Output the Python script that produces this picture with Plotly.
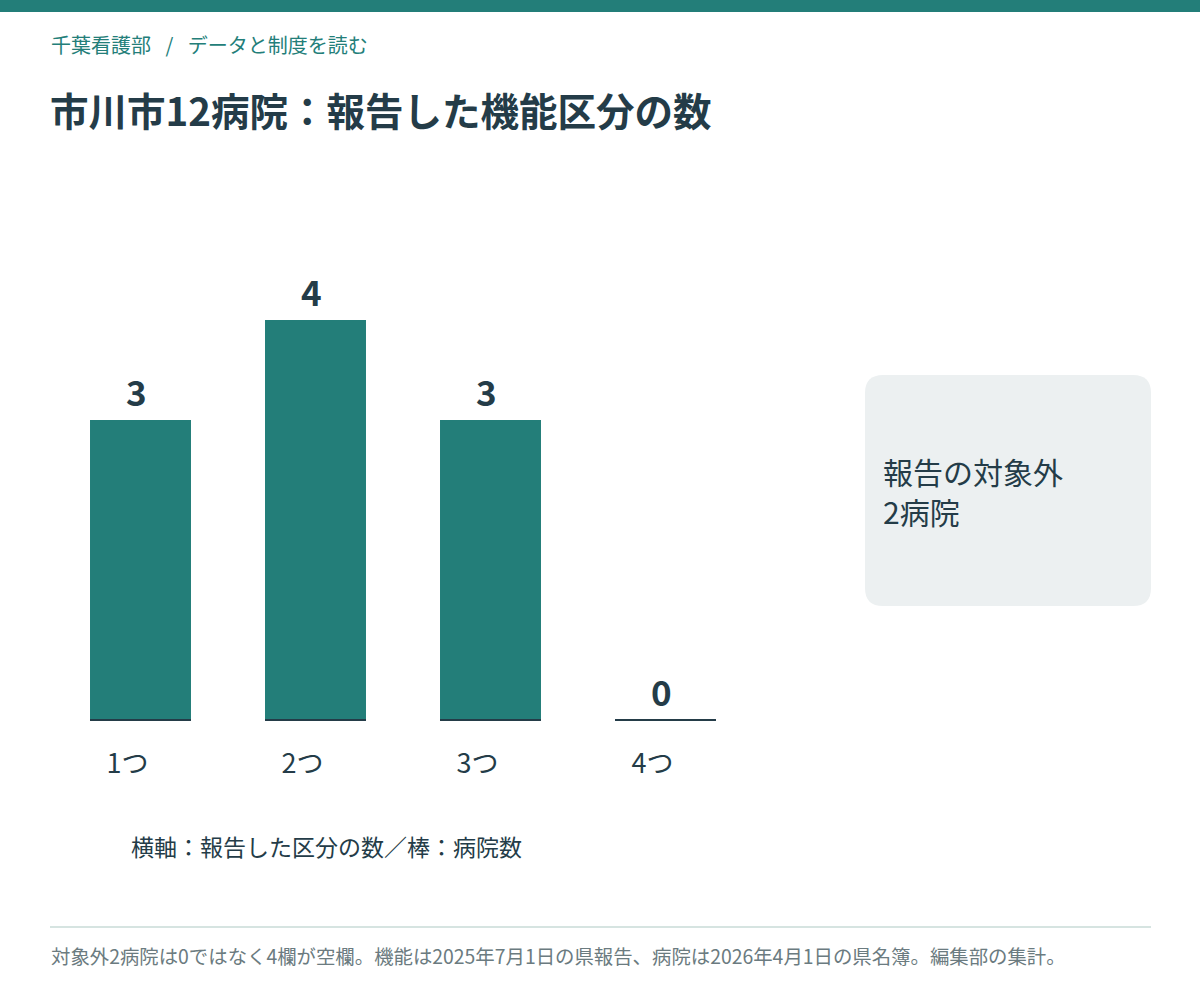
import plotly.graph_objects as go

# ---- data ----
categories = ["1つ", "2つ", "3つ", "4つ"]
hospital_counts = [3, 4, 3, 0]
excluded_lines = ["報告の対象外", "2病院"]
title_text = "市川市12病院：報告した機能区分の数"
breadcrumb_text = "千葉看護部\u2002 / \u2002データと制度を読む"
axis_caption = "横軸：報告した区分の数／棒：病院数"
footer_text = "対象外2病院は0ではなく4欄が空欄。機能は2025年7月1日の県報告、病院は2026年4月1日の県名簿。編集部の集計。"

TEAL = "#237e79"
DARK = "#243c48"
GREY = "#6b7b80"
FONT = "Noto Sans CJK JP"
W, H = 1200, 1000

def px(x):
    return x / W

def py(y):
    return 1 - y / H

BAR_W = 0.577

fig = go.Figure()
fig.add_trace(go.Bar(
    x=list(range(len(categories))),
    y=hospital_counts,
    width=BAR_W,
    marker=dict(color=TEAL, line=dict(width=0)),
    hoverinfo="skip",
))

# value labels
for i, v in enumerate(hospital_counts):
    fig.add_annotation(x=i, y=v, xref="x", yref="y", text=f"<b>{v}</b>",
                       showarrow=False, yanchor="bottom", yshift=2, xshift=-4,
                       font=dict(family=FONT, size=35, color=DARK))

# baseline under each bar
for i, v in enumerate(hospital_counts):
    fig.add_shape(type="line", xref="x", yref="y",
                  x0=i - BAR_W / 2, x1=i + BAR_W / 2, y0=0, y1=0,
                  line=dict(color=DARK, width=2))

shapes = [
    # top band
    dict(type="rect", xref="paper", yref="paper", x0=0, x1=1, y0=py(12), y1=1,
         fillcolor=TEAL, line=dict(width=0), layer="below"),
    # footer rule
    dict(type="line", xref="paper", yref="paper", x0=px(50), x1=px(1151),
         y0=py(927), y1=py(927), line=dict(color="#d6e4e1", width=2)),
]
# rounded box
x0, x1, y0, y1, r = 865, 1151, 375, 606, 18
path = (f"M {px(x0 + r)} {py(y0)} L {px(x1 - r)} {py(y0)} "
        f"Q {px(x1)} {py(y0)} {px(x1)} {py(y0 + r)} "
        f"L {px(x1)} {py(y1 - r)} Q {px(x1)} {py(y1)} {px(x1 - r)} {py(y1)} "
        f"L {px(x0 + r)} {py(y1)} Q {px(x0)} {py(y1)} {px(x0)} {py(y1 - r)} "
        f"L {px(x0)} {py(y0 + r)} Q {px(x0)} {py(y0)} {px(x0 + r)} {py(y0)} Z")
shapes.append(dict(type="path", xref="paper", yref="paper", path=path,
                   fillcolor="#ecf0f1", line=dict(width=0), layer="below"))
for s in shapes:
    fig.add_shape(**s)

annos = [
    dict(x=px(49), y=py(44), text=breadcrumb_text, xanchor="left", yanchor="middle",
         font=dict(family=FONT, size=20, color=TEAL)),
    dict(x=px(48), y=py(109), text=f"<b>{title_text}</b>", xanchor="left", yanchor="middle",
         font=dict(family=FONT, size=38.5, color=DARK)),
    dict(x=px(129), y=py(846), text=axis_caption, xanchor="left", yanchor="middle",
         font=dict(family=FONT, size=23, color=DARK)),
    dict(x=px(49), y=py(955), text=footer_text, xanchor="left", yanchor="middle",
         font=dict(family=FONT, size=19.4, color=GREY)),
]
for k, line in enumerate(excluded_lines):
    annos.append(dict(x=px(881), y=py(471 + 40 * k), text=line, xanchor="left",
                      yanchor="middle", font=dict(family=FONT, size=30, color=DARK)))
for a in annos:
    fig.add_annotation(xref="paper", yref="paper", showarrow=False, **a)

fig.update_layout(
    width=W, height=H,
    margin=dict(l=0, r=0, t=0, b=0),
    paper_bgcolor="white", plot_bgcolor="white",
    showlegend=False,
    font=dict(family=FONT, color=DARK),
    xaxis=dict(domain=[px(53), px(753)], range=[-0.5, 3.5],
               tickmode="array", tickvals=list(range(len(categories))),
               ticktext=categories, showgrid=False, zeroline=False, showline=False,
               ticks="", ticklabelshift=-13, ticklabelstandoff=15,
               tickfont=dict(family=FONT, size=27, color=DARK), fixedrange=True),
    yaxis=dict(domain=[py(730), py(220)], range=[-0.1, 5], visible=False,
               showgrid=False, zeroline=False, fixedrange=True),
)

fig.write_html("out.html", config={"displayModeBar": False},
               post_script="document.body.style.margin='0';")
